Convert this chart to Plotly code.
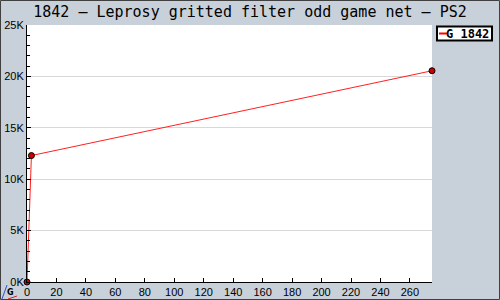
import plotly.graph_objects as go

series_name = "G 1842"
x_vals = [0, 3, 275]
y_vals = [0, 12300, 20550]
y_tick_vals = [0, 5000, 10000, 15000, 20000, 25000]
y_tick_text = ["0K", "5K", "10K", "15K", "20K", "25K"]
title_text = "1842 \u2013 Leprosy gritted filter odd game net \u2013 PS2"

W, H = 500, 300
L, R, T, B = 27, 68, 25, 18
pw, ph = W - L - R, H - T - B


def px(xp):
    return (xp - L) / pw


def py(yp):
    return 1 - (yp - T) / ph


fig = go.Figure()
fig.add_trace(go.Scatter(
    x=x_vals, y=y_vals, mode="lines+markers", name=series_name,
    line=dict(color="#ff2020", width=1),
    marker=dict(color="#cc0000", size=6, line=dict(color="#000000", width=1)),
    cliponaxis=False, showlegend=False,
))

fig.update_layout(
    width=W, height=H,
    margin=dict(l=L, r=R, t=T, b=B, autoexpand=False),
    paper_bgcolor="#c8d0d9",
    plot_bgcolor="#ffffff",
    title=dict(text=title_text, x=0.5, xanchor="center", y=1 - 12 / H, yanchor="middle",
               font=dict(family="DejaVu Sans Mono", size=15, color="#000000")),
    xaxis=dict(range=[0, 275], dtick=20, tick0=0, showgrid=False, zeroline=False,
               automargin=False,
               showline=True, linecolor="#000000", linewidth=1,
               ticks="inside", ticklen=4, tickcolor="#000000",
               tickfont=dict(family="Liberation Sans", size=11, color="#000000")),
    yaxis=dict(range=[0, 25000], tickvals=y_tick_vals, ticktext=y_tick_text,
               automargin=False,
               showgrid=True, gridcolor="#d8d8d8", gridwidth=1, zeroline=False,
               showline=True, linecolor="#000000", linewidth=1,
               ticks="inside", ticklen=4, tickcolor="#000000",
               minor=dict(dtick=1000, ticks="inside", ticklen=3, tickcolor="#000000", showgrid=False),
               tickfont=dict(family="Liberation Sans", size=11, color="#000000")),
    showlegend=False,
)

# legend box (rect + short red line + text)
fig.add_shape(type="rect", xref="paper", yref="paper",
              x0=px(437), x1=px(492), y0=py(40.5), y1=py(26.5),
              line=dict(color="#000000", width=2), fillcolor="#ffffff", layer="above")
fig.add_shape(type="line", xref="paper", yref="paper",
              x0=px(439), x1=px(447), y0=py(33.5), y1=py(33.5),
              line=dict(color="#ff0000", width=2), layer="above")
fig.add_annotation(
    xref="paper", yref="paper",
    x=px(490.5), y=py(33.5), xanchor="right", yanchor="middle",
    text="<b>" + series_name + "</b>",
    showarrow=False, align="right",
    font=dict(family="DejaVu Sans Mono", size=12, color="#000000"),
)

# small logo bottom-left
fig.add_annotation(
    xref="paper", yref="paper",
    x=px(10), y=py(292), xanchor="center", yanchor="middle",
    text="<b>G</b>", showarrow=False,
    font=dict(family="DejaVu Sans", size=8, color="#000000"),
)
fig.add_shape(type="line", xref="paper", yref="paper",
              x0=px(2), y0=py(299), x1=px(7), y1=py(285),
              line=dict(color="#3050d0", width=1), layer="above")
fig.add_shape(type="line", xref="paper", yref="paper",
              x0=px(8), y0=py(299), x1=px(17), y1=py(296),
              line=dict(color="#e02020", width=1), layer="above")

# outer border of the image
fig.add_shape(type="rect", xref="paper", yref="paper",
              x0=px(0.5), x1=px(W - 0.5),
              y0=py(H - 0.5), y1=py(0.5),
              line=dict(color="#404040", width=1), fillcolor="rgba(0,0,0,0)", layer="above")

fig.write_html("out.html")
